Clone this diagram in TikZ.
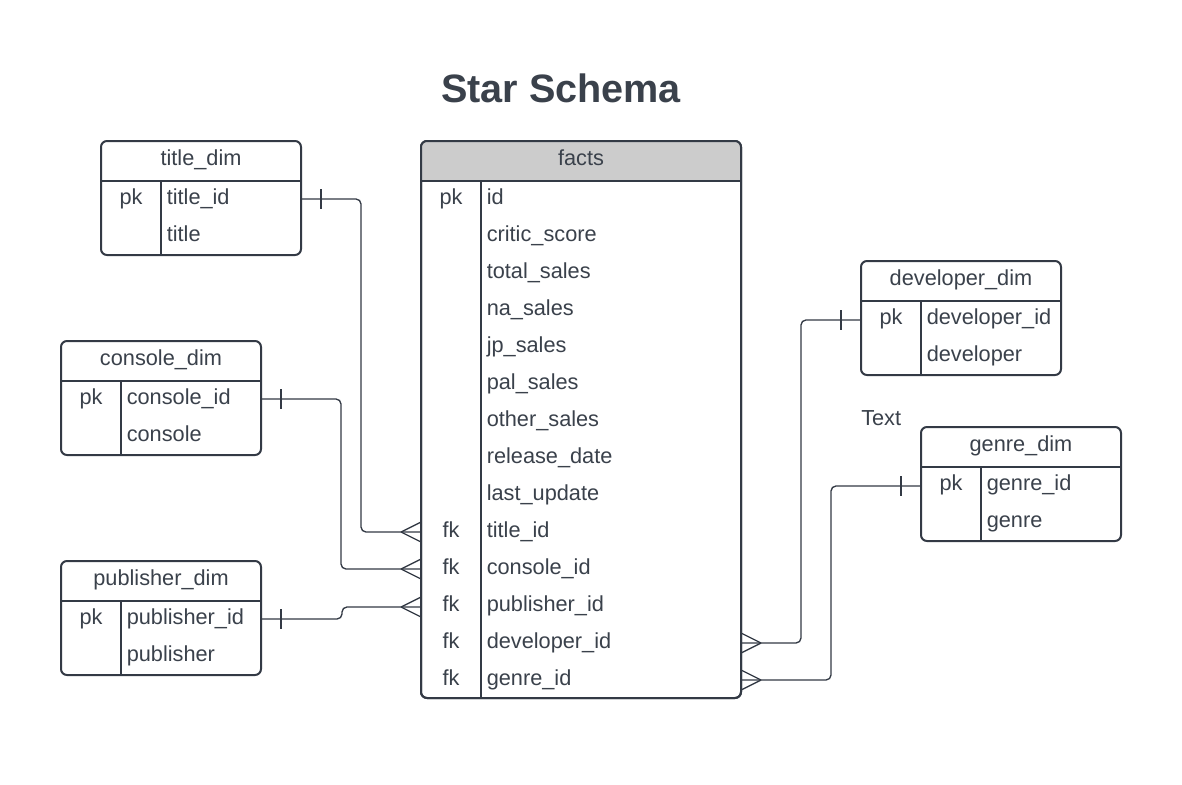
\documentclass[tikz,border=0pt]{standalone}
\usepackage{fontspec}
\setmainfont{Liberation Sans}
\definecolor{ink}{HTML}{333A45}
\definecolor{txt}{HTML}{3A414B}
\definecolor{hdr}{HTML}{CCCCCC}
\tikzset{
  tbl/.style={draw=ink, line width=1.5pt, rounded corners=4.5pt, fill=white, inner sep=0pt},
  sep/.style={draw=ink, line width=1.5pt},
  conn/.style={draw=ink, line width=1pt, rounded corners=3.75pt},
  lbl/.style={font=\fontsize{16.3pt}{18pt}\selectfont, text=txt, inner sep=0pt},
  fld/.style={lbl, anchor=base west},
  key/.style={lbl, anchor=base},
  head/.style={lbl, anchor=base},
}
\begin{document}
\begin{tikzpicture}[x=0.75pt, y=-0.75pt]
\useasboundingbox[fill=white] (0,0) rectangle (1182,785);
% title
\node[font=\bfseries\fontsize{29.7pt}{32pt}\selectfont, text=txt, anchor=base, inner sep=0pt] (ttl) at (561,102) {Star Schema};

% ---------- facts ----------
\node[tbl, minimum width=240pt, minimum height=417.75pt] (facts) at (581,419.5) {};
\begin{scope}
  \clip[rounded corners=4.5pt] (421,141) rectangle (741,698);
  \fill[hdr] (421,141) rectangle (741,181);
\end{scope}
\draw[tbl, fill=none] (421,141) rectangle (741,698);
\draw[sep] (facts.west |- 0,181) -- (facts.east |- 0,181);
\draw[sep] (481,181) -- (481,698);
\node[head] (facts-h) at (581,165.5) {facts};
\node[key] (f-pk) at (451,204.5) {pk};
\node[fld] (f1) at (486.5,204.5) {id};
\node[fld] (f2) at (486.5,241.5) {critic\_score};
\node[fld] (f3) at (486.5,278.5) {total\_sales};
\node[fld] (f4) at (486.5,315.5) {na\_sales};
\node[fld] (f5) at (486.5,352.5) {jp\_sales};
\node[fld] (f6) at (486.5,389.5) {pal\_sales};
\node[fld] (f7) at (486.5,426.5) {other\_sales};
\node[fld] (f8) at (486.5,463.5) {release\_date};
\node[fld] (f9) at (486.5,500.5) {last\_update};
\node[key] (fk1) at (451,537.5) {fk};
\node[fld] (f10) at (486.5,537.5) {title\_id};
\node[key] (fk2) at (451,574.5) {fk};
\node[fld] (f11) at (486.5,574.5) {console\_id};
\node[key] (fk3) at (451,611.5) {fk};
\node[fld] (f12) at (486.5,611.5) {publisher\_id};
\node[key] (fk4) at (451,648.5) {fk};
\node[fld] (f13) at (486.5,648.5) {developer\_id};
\node[key] (fk5) at (451,685.5) {fk};
\node[fld] (f14) at (486.5,685.5) {genre\_id};

% ---------- title_dim ----------
\node[tbl, minimum width=150pt, minimum height=85.5pt] (tdim) at (201,198) {};
\draw[sep] (tdim.west |- 0,181) -- (tdim.east |- 0,181);
\draw[sep] (161,181) -- (161,255);
\node[head] (tdim-h) at (201,165.5) {title\_dim};
\node[key] (tdim-pk) at (131,204.5) {pk};
\node[fld] (tdim-1) at (166.5,204.5) {title\_id};
\node[fld] (tdim-2) at (166.5,241.5) {title};

% ---------- console_dim ----------
\node[tbl, minimum width=150pt, minimum height=85.5pt] (cdim) at (161,398) {};
\draw[sep] (cdim.west |- 0,381) -- (cdim.east |- 0,381);
\draw[sep] (121,381) -- (121,455);
\node[head] (cdim-h) at (161,365.5) {console\_dim};
\node[key] (cdim-pk) at (91,404.5) {pk};
\node[fld] (cdim-1) at (126.5,404.5) {console\_id};
\node[fld] (cdim-2) at (126.5,441.5) {console};

% ---------- publisher_dim ----------
\node[tbl, minimum width=150pt, minimum height=85.5pt] (pdim) at (161,618) {};
\draw[sep] (pdim.west |- 0,601) -- (pdim.east |- 0,601);
\draw[sep] (121,601) -- (121,675);
\node[head] (pdim-h) at (161,585.5) {publisher\_dim};
\node[key] (pdim-pk) at (91,624.5) {pk};
\node[fld] (pdim-1) at (126.5,624.5) {publisher\_id};
\node[fld] (pdim-2) at (126.5,661.5) {publisher};

% ---------- developer_dim ----------
\node[tbl, minimum width=150pt, minimum height=85.5pt] (ddim) at (961,318) {};
\draw[sep] (ddim.west |- 0,301) -- (ddim.east |- 0,301);
\draw[sep] (921,301) -- (921,375);
\node[head] (ddim-h) at (961,285.5) {developer\_dim};
\node[key] (ddim-pk) at (891,324.5) {pk};
\node[fld] (ddim-1) at (926.5,324.5) {developer\_id};
\node[fld] (ddim-2) at (926.5,361.5) {developer};

% ---------- genre_dim ----------
\node[tbl, minimum width=150pt, minimum height=85.5pt] (gdim) at (1021,484) {};
\draw[sep] (gdim.west |- 0,467) -- (gdim.east |- 0,467);
\draw[sep] (981,467) -- (981,541);
\node[head] (gdim-h) at (1021,451.5) {genre\_dim};
\node[key] (gdim-pk) at (951,490.5) {pk};
\node[fld] (gdim-1) at (986.5,490.5) {genre\_id};
\node[fld] (gdim-2) at (986.5,527.5) {genre};

\node[fld] (txtlbl) at (861,425) {Text};

% ---------- connectors ----------
% title_dim -> facts.title_id
\draw[conn] (tdim.east |- 0,199) -- (361,199) -- (361,532) -- (facts.west |- 0,532);
\draw[conn] (321,189) -- (321,209);
\draw[conn] (401,532) -- (421,522) (401,532) -- (421,542);
% console_dim -> facts.console_id
\draw[conn] (cdim.east |- 0,399) -- (341,399) -- (341,569) -- (facts.west |- 0,569);
\draw[conn] (281,389) -- (281,409);
\draw[conn] (401,569) -- (421,559) (401,569) -- (421,579);
% publisher_dim -> facts.publisher_id
\draw[conn] (pdim.east |- 0,619) -- (342,619) -- (342,607) -- (facts.west |- 0,607);
\draw[conn] (281,609) -- (281,629);
\draw[conn] (401,607) -- (421,597) (401,607) -- (421,617);
% facts.developer_id -> developer_dim
\draw[conn] (facts.east |- 0,643) -- (801,643) -- (801,320) -- (ddim.west |- 0,320);
\draw[conn] (841,310) -- (841,330);
\draw[conn] (761,643) -- (741,633) (761,643) -- (741,653);
% facts.genre_id -> genre_dim
\draw[conn] (facts.east |- 0,680) -- (831,680) -- (831,486) -- (gdim.west |- 0,486);
\draw[conn] (901,476) -- (901,496);
\draw[conn] (761,680) -- (741,670) (761,680) -- (741,690);
\end{tikzpicture}
\end{document}
